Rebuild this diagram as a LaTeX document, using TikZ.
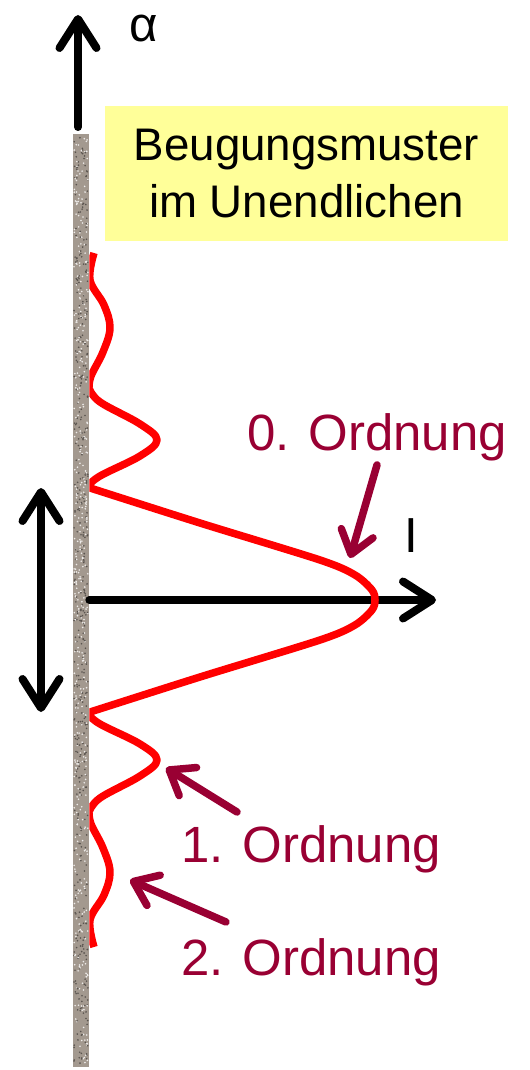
\documentclass[tikz,border=0pt]{standalone}
\usepackage{fontspec}
\setmainfont{Liberation Sans}
\usetikzlibrary{arrows.meta}

\definecolor{screengray}{RGB}{163,153,143}
\definecolor{notered}{RGB}{153,0,51}
\definecolor{boxyellow}{RGB}{255,255,153}

\begin{document}
\begin{tikzpicture}[
	x=0.02cm, y=-0.02cm,
	>={Straight Barb[length=0.58cm, width=0.74cm, round]},
	axis/.style={->, line width=0.16cm, line cap=round},
	wave/.style={red, line width=0.15cm, line join=round},
	note/.style={notered, line width=0.15cm, line cap=round,
		-{Straight Barb[length=0.44cm, width=0.66cm, round]}},
	lbl/.style={font=\fontsize{29}{34}\selectfont, inner sep=0pt, anchor=base},
	infobox/.style={fill=boxyellow, minimum width=8.06cm, minimum height=2.7cm,
		align=center, font=\fontsize{26}{32}\selectfont},
	screen/.style={fill=screengray, minimum width=0.32cm, minimum height=18.66cm, inner sep=0pt}
]
\useasboundingbox (0,0) rectangle (529,1070);

% screen with the pattern
\node[screen] (screen) at (81,600.5) {};
\pgfmathsetseed{11}
\foreach \k in {1,...,450} {
	\fill[screengray!55!black] ({74+14*rnd},{136+929*rnd}) circle (0.9);
	\fill[white!80!screengray] ({74+14*rnd},{136+929*rnd}) circle (0.9);
}

\node[infobox] (pattern) at (306.5,173.5) {Beugungsmuster\\im Unendlichen};

% axes
\coordinate (abase) at (78,127);
\coordinate (atip)  at (78,15);
\coordinate (itip)  at (436,600);
\coordinate (wtop)  at (41,488);
\coordinate (wbot)  at (41,712);

\draw[axis] (abase) -- (atip);
\node[lbl, font=\fontsize{28}{34}\selectfont, anchor=center] (alpha) at (144,29) {α};
\draw[axis] (screen.east |- itip) -- (itip);
\node[lbl, font=\fontsize{28}{34}\selectfont, anchor=center] (intens) at (411,536) {I};
\draw[axis, <->] (wtop) -- (wbot);

% intensity curve
\begin{scope}
\clip (screen.north east) rectangle (529,1070);
\draw[wave]
	plot[smooth, tension=0.6] coordinates {(94,253) (90,280) (104,305) (110,328) (103,352) (91,376) (89,388)}
	-- plot[smooth, tension=0.6] coordinates {(89,388) (100,402) (140,424) (157,440) (140,456) (100,476) (87,487)}
	-- plot[smooth, tension=0.5] coordinates {(87,487) (200,523) (320,560) (355,575) (372,590) (375,600) (372,610) (355,625) (320,640) (200,677) (87,713)}
	-- plot[smooth, tension=0.6] coordinates {(87,713) (100,724) (140,744) (157,760) (140,776) (100,798) (89,812)}
	-- plot[smooth, tension=0.6] coordinates {(89,812) (91,824) (103,848) (110,872) (104,895) (90,920) (94,947)};
\end{scope}

% orders
\node[lbl, notered] (ord0) at (377,450) {0. Ordnung};
\node[lbl, notered] (ord1) at (311,862) {1. Ordnung};
\node[lbl, notered] (ord2) at (311,975) {2. Ordnung};

\coordinate (peak0) at (350,558);
\coordinate (lobe1) at (166,768);
\coordinate (lobe2) at (130,880);
\coordinate (tail1) at (237,812);
\coordinate (tail2) at (226,922);

\draw[note] (ord0.south) ++(0,4) -- (peak0);
\draw[note] (tail1) -- (lobe1);
\draw[note] (tail2) -- (lobe2);

\end{tikzpicture}
\end{document}
